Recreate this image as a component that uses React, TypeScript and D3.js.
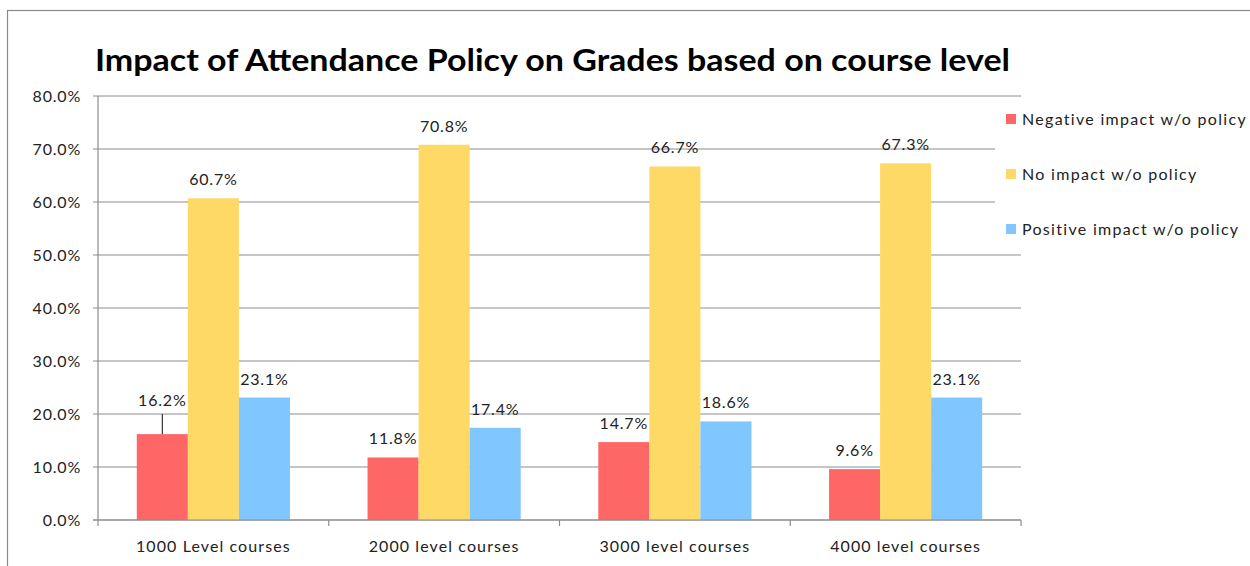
import React from "react";
import * as d3 from "d3";

const categories = ["1000 Level courses", "2000 level courses", "3000 level courses", "4000 level courses"];
const seriesNames = ["Negative impact w/o policy", "No impact w/o policy", "Positive impact w/o policy"];
const negativeValues = [16.2, 11.8, 14.7, 9.6];
const noImpactValues = [60.7, 70.8, 66.7, 67.3];
const positiveValues = [23.1, 17.4, 18.6, 23.1];
const yTicks = [0, 10, 20, 30, 40, 50, 60, 70, 80];
const colors = ["#FF6666", "#FFD966", "#80C6FF"];
const title = "Impact of Attendance Policy on Grades based on course level";

export default function App() {
  const W = 1250, H = 566;
  const left = 98, right = 1021, top = 96, bottom = 520;
  const x = d3.scaleBand<string>().domain(categories).range([left, right]).paddingInner(0).paddingOuter(0);
  const y = d3.scaleLinear().domain([0, 80]).range([bottom, top]);
  const series = [negativeValues, noImpactValues, positiveValues];
  const inner = d3.scaleBand<number>().domain([0, 1, 2]).range([0, x.bandwidth()]).paddingOuter(0.76).paddingInner(0);
  const font = "Lato, 'Open Sans', sans-serif";
  const grid = "#8c8c8c";
  const bounds = [...categories.map((c) => x(c)!), right];
  return (
    <div style={{ position: "absolute", left: 0, top: 0 }}>
      <svg width={W} height={H} style={{ display: "block", background: "#fff" }}>
        <rect x={7.5} y={10.5} width={W} height={H} fill="#fff" stroke="#8a8a8a" strokeWidth={1.2} />
        <text x={95} y={71} fontFamily={font} fontWeight={700} fontSize={30} fill="#000" textLength={915} lengthAdjust="spacingAndGlyphs">{title}</text>
        {yTicks.map((t) => (
          <g key={t}>
            <line x1={93} x2={right} y1={y(t)} y2={y(t)} stroke={grid} strokeWidth={1} />
            <text x={81} y={y(t) + 5.5} textAnchor="end" fontFamily={font} fontSize={16} letterSpacing={0.8} fill="#222">{t.toFixed(1)}%</text>
          </g>
        ))}
        <line x1={left} x2={left} y1={top} y2={bottom} stroke={grid} strokeWidth={1.2} />
        {bounds.map((b, i) => (
          <line key={i} x1={b} x2={b} y1={bottom} y2={bottom + 6} stroke={grid} strokeWidth={1.2} />
        ))}
        {categories.map((c, ci) => (
          <g key={c}>
            {series.map((vals, si) => {
              const bx = x(c)! + inner(si)!;
              const bw = inner.bandwidth();
              const v = vals[ci];
              const lifted = si === 0 && ci === 0;
              const ly = lifted ? y(20) - 8 : y(v) - 13;
              return (
                <g key={si}>
                  <rect x={bx} y={y(v)} width={bw} height={bottom - y(v)} fill={colors[si]} />
                  {lifted && <line x1={bx + bw / 2} x2={bx + bw / 2} y1={y(v)} y2={y(20)} stroke="#333" strokeWidth={1.2} />}
                  <text x={bx + bw / 2} y={ly} textAnchor="middle" fontFamily={font} fontSize={16} letterSpacing={0.8} fill="#222">{v.toFixed(1)}%</text>
                </g>
              );
            })}
            <text x={x(c)! + x.bandwidth() / 2} y={552} textAnchor="middle" fontFamily={font} fontSize={16} letterSpacing={1.1} fill="#222">{c}</text>
          </g>
        ))}
        <line x1={93} x2={right} y1={bottom} y2={bottom} stroke={grid} strokeWidth={1.2} />
        <rect x={995} y={100} width={255} height={150} fill="#fff" />
        {seriesNames.map((s, i) => (
          <g key={s}>
            <rect x={1006} y={114 + i * 55} width={10} height={10} fill={colors[i]} />
            <text x={1022} y={125 + i * 55} fontFamily={font} fontSize={16} letterSpacing={1.3} fill="#222">{s}</text>
          </g>
        ))}
      </svg>
    </div>
  );
}
